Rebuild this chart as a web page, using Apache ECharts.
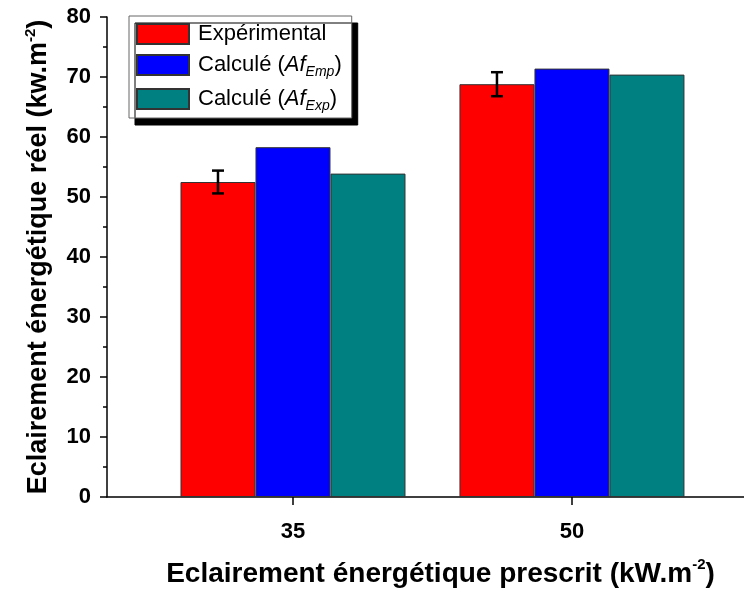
<!DOCTYPE html>
<html>
<head>
<meta charset="utf-8">
<script src="https://cdn.jsdelivr.net/npm/echarts@6/dist/echarts.min.js"></script>
<style>
    html,body{margin:0;padding:0;background:#fff;}
    #main{width:744px;height:589px;}
</style>
</head>
<body>
<div id="main"></div>
<script>
// valeurs
var categories = [35, 50];
var experimental = [52.5, 68.8];
var experimentalErr = [1.9, 2.0];
var calculeEmp = [58.3, 71.4];
var calculeExp = [53.9, 70.4];
var seriesNames = ['Expérimental', 'Calculé (Af_Emp)', 'Calculé (Af_Exp)'];

var barW = 75;
var font = '"Liberation Sans", Arial, sans-serif';

function pairs(vals){
    return categories.map(function(c, i){ return [c, vals[i]]; });
}

var myChart = echarts.init(document.getElementById('main'));
var option = {
    backgroundColor: '#fff',
    animation: false,
    grid: {left: 107, top: 17, bottom: 92, right: 0, outerBoundsMode: 'none'},
    legend: {
        orient: 'vertical',
        left: 129,
        top: 16,
        padding: [7, 10, 5, 7],
        itemWidth: 52,
        itemHeight: 20,
        itemGap: 9,
        icon: 'rect',
        backgroundColor: '#fff',
        borderColor: '#666',
        borderWidth: 1,
        shadowColor: '#000',
        shadowBlur: 0,
        shadowOffsetX: 6,
        shadowOffsetY: 7,
        data: seriesNames,
        formatter: function(name){
            if(name == seriesNames[1]) return '{n|Calculé (}{it|Af}{sub|Emp}{n|)}';
            if(name == seriesNames[2]) return '{n|Calculé (}{it|Af}{sub|Exp}{n|)}';
            return '{n|' + name + '}';
        },
        textStyle: {
            fontFamily: font,
            fontSize: 22,
            color: '#000',
            padding: [0, 0, 0, 4],
            rich: {
                n: {fontFamily: font, fontSize: 22, lineHeight: 28, color: '#000'},
                it: {fontFamily: font, fontSize: 22, lineHeight: 28, fontStyle: 'italic', color: '#000'},
                sub: {fontFamily: font, fontSize: 14, lineHeight: 14, fontStyle: 'italic', verticalAlign: 'bottom', color: '#000'}
            }
        }
    },
    xAxis: {
        type: 'value',
        min: 25,
        max: 59.25,
        name: '{b|Eclairement énergétique prescrit (kW.m}{sup|-2}{b|)}',
        nameLocation: 'middle',
        nameGap: 60,
        nameTextStyle: {
            padding: [0, 0, 0, 30],
            rich: {
                b: {fontFamily: font, fontSize: 28, fontWeight: 'bold', lineHeight: 34, color: '#000'},
                sup: {fontFamily: font, fontSize: 15, fontWeight: 'bold', lineHeight: 16, verticalAlign: 'top', color: '#000'}
            }
        },
        axisLine: {lineStyle: {color: '#000', width: 1.5}},
        axisTick: {show: true, inside: false, length: 8, customValues: categories, lineStyle: {color: '#000', width: 1.5}},
        axisLabel: {customValues: categories, margin: 24, fontFamily: font, fontSize: 22, fontWeight: 'bold', color: '#000'},
        splitLine: {show: false}
    },
    yAxis: {
        type: 'value',
        min: 0,
        max: 80,
        interval: 10,
        name: '{b|Eclairement énergétique réel (kw.m}{sup|-2}{b|)}',
        nameLocation: 'middle',
        nameGap: 52,
        nameTextStyle: {
            rich: {
                b: {fontFamily: font, fontSize: 27, fontWeight: 'bold', lineHeight: 32, color: '#000'},
                sup: {fontFamily: font, fontSize: 15, fontWeight: 'bold', lineHeight: 16, verticalAlign: 'top', color: '#000'}
            }
        },
        axisLine: {show: true, lineStyle: {color: '#000', width: 1.5}},
        axisTick: {show: true, inside: false, length: 7, lineStyle: {color: '#000', width: 1.5}},
        minorTick: {show: true, splitNumber: 2, length: 4, lineStyle: {color: '#000', width: 1.5}},
        axisLabel: {margin: 16, fontFamily: font, fontSize: 22, fontWeight: 'bold', color: '#000'},
        splitLine: {show: false}
    },
    series: [
        {
            name: seriesNames[0],
            type: 'bar',
            barWidth: barW,
            barGap: '0%',
            itemStyle: {color: '#ff0000', borderColor: '#333', borderWidth: 1},
            data: pairs(experimental)
        },
        {
            name: seriesNames[1],
            type: 'bar',
            barWidth: barW,
            barGap: '0%',
            itemStyle: {color: '#0000ff', borderColor: '#333', borderWidth: 1},
            data: pairs(calculeEmp)
        },
        {
            name: seriesNames[2],
            type: 'bar',
            barWidth: barW,
            barGap: '0%',
            itemStyle: {color: '#008080', borderColor: '#333', borderWidth: 1},
            data: pairs(calculeExp)
        },
        {
            name: 'erreur',
            type: 'custom',
            z: 10,
            data: categories.map(function(c, i){ return [c, experimental[i], experimentalErr[i]]; }),
            renderItem: function(params, api){
                var x = api.value(0), y = api.value(1), e = api.value(2);
                var top = api.coord([x, y + e]);
                var bot = api.coord([x, y - e]);
                var cx = top[0] - barW;
                var st = {stroke: '#000', lineWidth: 2.5};
                return {
                    type: 'group',
                    children: [
                        {type: 'line', shape: {x1: cx, y1: top[1], x2: cx, y2: bot[1]}, style: st},
                        {type: 'line', shape: {x1: cx - 6, y1: top[1], x2: cx + 6, y2: top[1]}, style: st},
                        {type: 'line', shape: {x1: cx - 6, y1: bot[1], x2: cx + 6, y2: bot[1]}, style: st}
                    ]
                };
            }
        }
    ]
};
myChart.setOption(option);
</script>
</body>
</html>
